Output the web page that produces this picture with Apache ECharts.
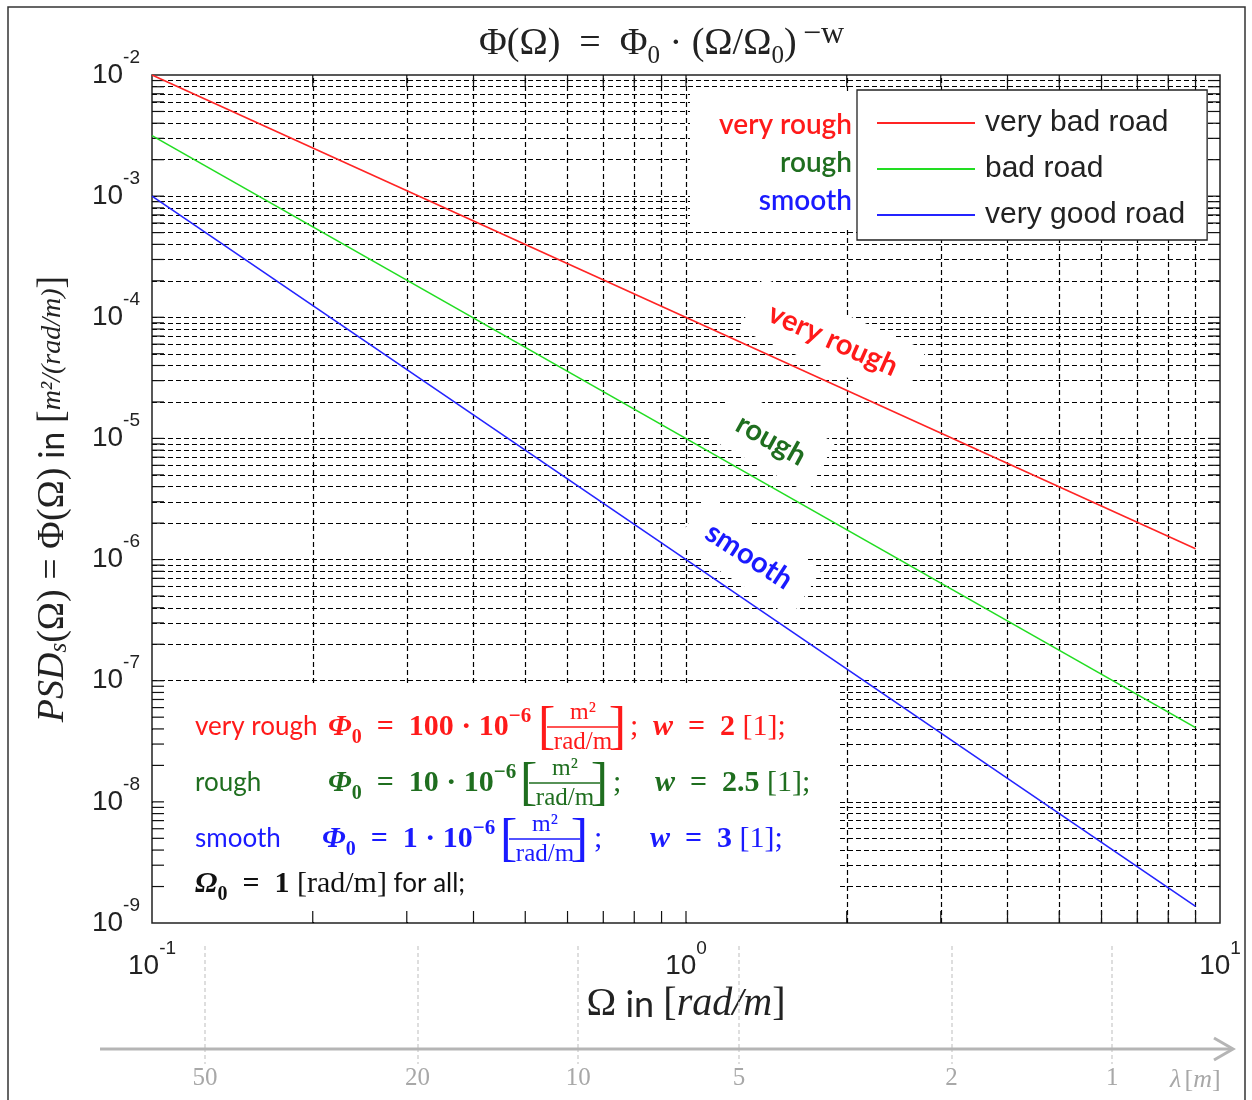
<!DOCTYPE html>
<html>
<head>
<meta charset="utf-8">
<script src="https://cdn.jsdelivr.net/npm/echarts@6/dist/echarts.min.js"></script>
<style>
html, body { margin: 0; padding: 0; background: #fff; }
#main { width: 1252px; height: 1100px; }
</style>
</head>
<body>
<div id="main"></div>
<script>
// axis ranges
var omegaRange = [0.1, 10];
var psdRange = [1e-9, 1e-2];
var decadesX = [0.1, 1];
var decadesY = [1e-9, 1e-8, 1e-7, 1e-6, 1e-5, 1e-4, 1e-3];
var gridSteps = [1, 2, 3, 4, 5, 6, 7, 8, 9];
var lambdaTicks = [50, 20, 10, 5, 2, 1];

// series (end points of straight lines in log-log)
var seriesNames = ['very bad road', 'bad road', 'very good road'];
var classNames = ['very rough', 'rough', 'smooth'];
var lineColors = ['#ff2424', '#22dd22', '#2424ff'];
var textColors = ['#ff1a1a', '#1f6e1f', '#1a1aff'];
var veryRough = [[0.1, 1e-2], [9, 1.23e-6]];
var rough = [[0.1, 3.16e-3], [9, 4.1e-8]];
var smooth = [[0.1, 1e-3], [9, 1.37e-9]];
var seriesData = [veryRough, rough, smooth];

var G = { left: 152, top: 75, right: 1220, bottom: 923 };

var myChart = echarts.init(document.getElementById('main'));

var xGridVals = [];
decadesX.forEach(function (d) {
    gridSteps.forEach(function (k) { if (d * k > omegaRange[0] * 1.001) xGridVals.push(d * k); });
});
var yGridVals = [];
decadesY.forEach(function (d) {
    gridSteps.forEach(function (k) { if (d * k > psdRange[0] * 1.001) yGridVals.push(d * k); });
});

var gridMarks = xGridVals.map(function (v) { return { xAxis: v }; })
    .concat(yGridVals.map(function (v) { return { yAxis: v }; }));

var supLabel = {
    formatter: function (v) {
        return '{b|10}{s|' + Math.round(Math.log10(v)) + '}';
    },
    rich: {
        b: { fontSize: 28, fontFamily: 'Liberation Sans', color: '#222', lineHeight: 54 },
        s: { fontSize: 19, fontFamily: 'Liberation Sans', color: '#222', verticalAlign: 'top', lineHeight: 22 }
    }
};

var series = seriesData.map(function (d, i) {
    return {
        name: seriesNames[i],
        type: 'line',
        data: d,
        symbol: 'none',
        z: 5,
        lineStyle: { color: lineColors[i], width: 1.6 },
        itemStyle: { color: lineColors[i] }
    };
});
series.push({
    name: 'grid',
    type: 'line',
    data: [],
    z: 1,
    silent: true,
    markLine: {
        z: 1,
        silent: true,
        precision: 15,
        symbol: ['none', 'none'],
        label: { show: false },
        animation: false,
        lineStyle: { color: '#000', width: 1.2, type: [5, 3] },
        data: gridMarks
    }
});

var titleFont = { fontFamily: 'Liberation Serif', color: '#222', fontWeight: 'normal' };
var option = {
    animation: false,
    backgroundColor: '#fff',
    title: {
        left: 474,
        top: 14,
        text: '{a|Φ(Ω)  =  Φ}{sub|0}{a| · (Ω/Ω}{sub|0}{a|)}{sup|\u2009−w}',
        textStyle: {
            fontWeight: 'normal',
            rich: {
                a: Object.assign({ fontSize: 38, lineHeight: 50 }, titleFont),
                sub: Object.assign({ fontSize: 25, verticalAlign: 'bottom', lineHeight: 27 }, titleFont),
                sup: Object.assign({ fontSize: 32, verticalAlign: 'top', lineHeight: 28 }, titleFont)
            }
        }
    },
    legend: {
        orient: 'vertical',
        left: 857,
        top: 90,
        z: 6,
        data: seriesNames,
        icon: 'rect',
        itemWidth: 98,
        itemHeight: 2,
        itemGap: 14,
        padding: [17, 22, 9, 20],
        backgroundColor: '#fff',
        borderColor: '#222',
        borderWidth: 1.3,
        selectedMode: false,
        textStyle: { fontSize: 30, fontFamily: 'Liberation Sans', color: '#222', lineHeight: 32, padding: [0, 0, 0, 5] }
    },
    grid: {
        left: G.left, top: G.top, width: G.right - G.left, height: G.bottom - G.top,
        show: true, borderColor: '#222', borderWidth: 1.5, backgroundColor: '#fff',
        outerBoundsMode: 'none'
    },
    xAxis: [{
        type: 'log',
        min: omegaRange[0],
        max: omegaRange[1],
        splitNumber: 2,
        position: 'bottom',
        axisLine: { show: false },
        axisTick: { show: false },
        splitLine: { show: false },
        axisLabel: Object.assign({ margin: 16 }, supLabel),
        name: '{o|Ω}{t| in }{r|[}{i|rad/m}{r|]}',
        nameLocation: 'middle',
        nameGap: 54,
        nameTextStyle: {
            rich: {
                o: { fontSize: 40, fontFamily: 'Liberation Serif', color: '#222' },
                t: { fontSize: 36, fontFamily: 'Lato', color: '#222' },
                r: { fontSize: 40, fontFamily: 'Liberation Serif', color: '#222' },
                i: { fontSize: 40, fontFamily: 'Liberation Serif', fontStyle: 'italic', color: '#222' }
            }
        }
    }, {
        type: 'log',
        inverse: true,
        min: 2 * Math.PI / omegaRange[1],
        max: 2 * Math.PI / omegaRange[0],
        position: 'bottom',
        offset: 125,
        axisLine: { show: false },
        splitLine: { show: false },
        axisTick: { customValues: lambdaTicks, inside: true, length: 103, lineStyle: { color: '#d4d4d4', width: 1.5, type: [4, 3] } },
        axisLabel: { customValues: lambdaTicks, margin: 18, color: '#a8a8a8', fontSize: 25, fontFamily: 'Liberation Serif' }
    }, {
        type: 'log',
        inverse: true,
        min: 2 * Math.PI / omegaRange[1],
        max: 2 * Math.PI / omegaRange[0],
        position: 'bottom',
        offset: 125,
        axisLine: { show: false },
        splitLine: { show: false },
        axisLabel: { show: false },
        axisTick: { customValues: lambdaTicks, inside: false, length: 16, lineStyle: { color: '#d4d4d4', width: 1.5, type: [4, 3] } }
    }],
    yAxis: {
        type: 'log',
        min: psdRange[0],
        max: psdRange[1],
        splitNumber: 7,
        axisLine: { show: false },
        axisTick: { show: false },
        splitLine: { show: false },
        axisLabel: Object.assign({ margin: 12 }, supLabel),
        name: '{i|PSD}{is|s}{r|(Ω) = Φ(Ω)}{t| in }{r|[}{f|m²/(rad/m)}{r|]}',
        nameLocation: 'middle',
        nameRotate: 90,
        nameGap: 80,
        nameTextStyle: {
            rich: {
                i: { fontSize: 38, fontFamily: 'Liberation Serif', fontStyle: 'italic', color: '#222' },
                is: { fontSize: 25, fontFamily: 'Liberation Serif', fontStyle: 'italic', color: '#222', verticalAlign: 'bottom' },
                r: { fontSize: 38, fontFamily: 'Liberation Serif', color: '#222' },
                t: { fontSize: 34, fontFamily: 'Lato', color: '#222' },
                f: { fontSize: 28, fontFamily: 'Liberation Serif', fontStyle: 'italic', color: '#222' }
            }
        }
    },
    series: series
};

myChart.setOption(option);

// ---- decorations (boxes, labels, ticks) ----
var els = [];
// outer frame
els.push({ type: 'rect', z: 0, shape: { x: 8, y: 7, width: 1237, height: 1110 }, style: { fill: 'none', stroke: '#333', lineWidth: 1.5 } });
// white area behind class labels + legend
els.push({ type: 'rect', z: 3, shape: { x: 690, y: 92, width: 167, height: 138 }, style: { fill: '#fff' } });
var classY = [125, 163, 201];
classNames.forEach(function (c, i) {
    els.push({ type: 'text', z: 7, x: 852, y: classY[i], style: { text: c, fill: textColors[i], fontSize: 28, fontFamily: 'Lato', fontWeight: 600, align: 'right', verticalAlign: 'middle' } });
});

// rotated labels next to the lines
var lineLabels = [
    { t: 'very rough', x: 833, y: 340, a: 24, c: textColors[0] },
    { t: 'rough', x: 771, y: 440, a: 29, c: textColors[1] },
    { t: 'smooth', x: 749, y: 556, a: 33, c: textColors[2] }
];
lineLabels.forEach(function (l) {
    els.push({
        type: 'text', z: 3, x: l.x, y: l.y, rotation: -l.a * Math.PI / 180,
        style: { text: l.t, fill: l.c, fontSize: 29, fontFamily: 'Lato', fontWeight: 700, align: 'center', verticalAlign: 'middle', backgroundColor: '#fff', padding: [14, 20] }
    });
});

// formula box (bottom left)
els.push({ type: 'rect', z: 3, shape: { x: 153, y: 684, width: 687, height: 238 }, style: { fill: '#fff' } });
function mathRich(col) {
    return {
        l: { fontSize: 26, fontFamily: 'Lato', fill: col },
        m: { fontSize: 30, fontFamily: 'Liberation Serif', fontWeight: 'bold', fontStyle: 'italic', fill: col },
        sub: { fontSize: 20, fontFamily: 'Liberation Serif', fontWeight: 'bold', fill: col, verticalAlign: 'bottom', lineHeight: 20 },
        n: { fontSize: 30, fontFamily: 'Liberation Serif', fontWeight: 'bold', fill: col, lineHeight: 42 },
        sup: { fontSize: 21, fontFamily: 'Liberation Serif', fontWeight: 'bold', fill: col, verticalAlign: 'top', lineHeight: 20 },
        r: { fontSize: 30, fontFamily: 'Liberation Serif', fill: col }
    };
}
var EQ = '\u2002=\u2002';
var rows = [
    { y: 727, label: 'very rough', phiX: 328, phi0: '100', fracX: 538, semiX: 630, wX: 653, w: '2' },
    { y: 783, label: 'rough', phiX: 328, phi0: '10', fracX: 520, semiX: 613, wX: 655, w: '2.5' },
    { y: 839, label: 'smooth', phiX: 322, phi0: '1', fracX: 500, semiX: 594, wX: 650, w: '3' }
];
rows.forEach(function (r, i) {
    var col = textColors[i];
    var rich = mathRich(col);
    els.push({ type: 'text', z: 4, x: 195, y: r.y, style: { text: '{l|' + r.label + '}', rich: rich, verticalAlign: 'middle' } });
    els.push({ type: 'text', z: 4, x: r.phiX, y: r.y, style: { text: '{m|Φ}{sub|0}{n|' + EQ + r.phi0 + ' · 10}{sup|−6}', rich: rich, verticalAlign: 'middle' } });
    // fraction [m^2 / rad/m]
    var fx = r.fracX;
    els.push({ type: 'text', z: 4, x: fx, y: r.y + 2, style: { text: '[', fill: col, fontSize: 52, fontFamily: 'Liberation Serif', verticalAlign: 'middle' } });
    els.push({ type: 'text', z: 4, x: fx + 88, y: r.y + 2, style: { text: ']', fill: col, fontSize: 52, fontFamily: 'Liberation Serif', verticalAlign: 'middle', align: 'right' } });
    els.push({ type: 'line', z: 4, shape: { x1: fx + 9, y1: r.y, x2: fx + 80, y2: r.y }, style: { stroke: col, lineWidth: 1.3 } });
    els.push({ type: 'text', z: 4, x: fx + 45, y: r.y - 14, style: { text: 'm²', fill: col, fontSize: 24, fontFamily: 'Liberation Serif', align: 'center', verticalAlign: 'middle' } });
    els.push({ type: 'text', z: 4, x: fx + 45, y: r.y + 15, style: { text: 'rad/m', fill: col, fontSize: 25, fontFamily: 'Liberation Serif', align: 'center', verticalAlign: 'middle' } });
    els.push({ type: 'text', z: 4, x: r.semiX, y: r.y, style: { text: '{r|;}', rich: rich, verticalAlign: 'middle' } });
    els.push({ type: 'text', z: 4, x: r.wX, y: r.y, style: { text: '{m|w}{n|' + EQ + r.w + ' }{r|[1];}', rich: rich, verticalAlign: 'middle' } });
});
var blk = mathRich('#111');
els.push({ type: 'text', z: 4, x: 195, y: 884, style: { text: '{m|Ω}{sub|0}{n|' + EQ + '1 }{r|[rad/m]}{l| for all;}', rich: blk, verticalAlign: 'middle' } });

// wavelength arrow
els.push({ type: 'line', z: 2, shape: { x1: 100, y1: 1049, x2: 1232, y2: 1049 }, style: { stroke: '#b5b5b5', lineWidth: 3 } });
els.push({ type: 'polyline', z: 2, shape: { points: [[1214, 1038], [1233, 1049], [1214, 1060]] }, style: { stroke: '#b5b5b5', lineWidth: 3, fill: 'none' } });
els.push({ type: 'text', z: 2, x: 1170, y: 1080, style: { text: '{i|λ} {r|[}{i|m}{r|]}', rich: {
    i: { fontSize: 26, fontFamily: 'Liberation Serif', fontStyle: 'italic', fill: '#a8a8a8' },
    r: { fontSize: 26, fontFamily: 'Liberation Serif', fill: '#a8a8a8' }
}, verticalAlign: 'middle' } });

// inner ticks on all four sides of the plot
var tickLen = 12;
xGridVals.forEach(function (v) {
    var px = myChart.convertToPixel({ xAxisIndex: 0 }, v);
    els.push({ type: 'line', z: 4, shape: { x1: px, y1: G.bottom, x2: px, y2: G.bottom - tickLen }, style: { stroke: '#111', lineWidth: 1.2 } });
    els.push({ type: 'line', z: 4, shape: { x1: px, y1: G.top, x2: px, y2: G.top + tickLen }, style: { stroke: '#111', lineWidth: 1.2 } });
});
yGridVals.forEach(function (v) {
    var py = myChart.convertToPixel({ yAxisIndex: 0 }, v);
    els.push({ type: 'line', z: 4, shape: { x1: G.left, y1: py, x2: G.left + tickLen, y2: py }, style: { stroke: '#111', lineWidth: 1.2 } });
    els.push({ type: 'line', z: 4, shape: { x1: G.right, y1: py, x2: G.right - tickLen, y2: py }, style: { stroke: '#111', lineWidth: 1.2 } });
});

myChart.setOption({ graphic: { elements: els } });
</script>
</body>
</html>
